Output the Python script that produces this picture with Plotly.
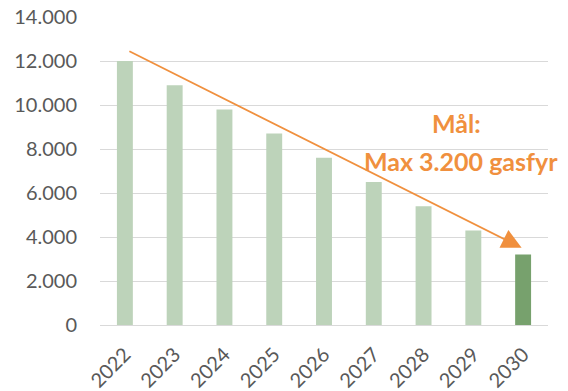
import plotly.graph_objects as go

# Antal gasfyr per år frem mod målet i 2030
years = [2022, 2023, 2024, 2025, 2026, 2027, 2028, 2029, 2030]
gasfyr = [12000, 10900, 9800, 8700, 7600, 6500, 5400, 4300, 3200]
y_ticks = [0, 2000, 4000, 6000, 8000, 10000, 12000, 14000]
y_tick_labels = ["0", "2.000", "4.000", "6.000", "8.000", "10.000", "12.000", "14.000"]

light_green = "#BDD3BA"
dark_green = "#77A16D"
orange = "#F0903E"
grey_text = "#595959"

bar_colors = [light_green] * (len(years) - 1) + [dark_green]

fig = go.Figure()
fig.add_trace(go.Bar(
    x=years, y=gasfyr,
    marker=dict(color=bar_colors, line=dict(width=0)),
    width=0.32,
))

# Trendpil fra 2022 mod målet i 2030
trend_start = (2022.06, 12480)
trend_end = (2029.97, 3510)
fig.add_annotation(
    x=trend_end[0], y=trend_end[1], xref="x", yref="y",
    ax=trend_start[0], ay=trend_start[1], axref="x", ayref="y",
    text="", showarrow=True, arrowhead=2, arrowsize=2.2, arrowwidth=1.8,
    arrowcolor=orange, standoff=0,
)
fig.add_annotation(
    x=456, y=123, xref="paper", yref="paper", text="<b>Mål:</b>",
    showarrow=False, font=dict(family="Lato", size=25, color=orange),
    xanchor="center", yanchor="middle",
)
fig.add_annotation(
    x=461, y=161, xref="paper", yref="paper", text="<b>Max 3.200 gasfyr</b>",
    showarrow=False, font=dict(family="Lato", size=25, color=orange),
    xanchor="center", yanchor="middle",
)

W, H = 568, 391
L, R, T, B = 100, 20, 17, 65.5

# annotation positions above are given in pixels; convert to paper fractions
for ann in fig.layout.annotations[1:]:
    ann.x = (ann.x - L) / (W - L - R)
    ann.y = 1 - (ann.y - T) / (H - T - B)

fig.update_layout(
    width=W, height=H,
    margin=dict(l=L, r=R, t=T, b=B, pad=0, autoexpand=False),
    plot_bgcolor="white", paper_bgcolor="white",
    showlegend=False,
    font=dict(family="Lato", color=grey_text),
)
fig.update_xaxes(
    tickvals=years, ticktext=[str(y) for y in years],
    range=[2021.5, 2030.5], tickangle=-45, automargin=False,
    tickfont=dict(family="Lato", size=20, color=grey_text),
    showgrid=False, showline=False, zeroline=False, ticks="",
    ticklabelstandoff=13,
)
fig.update_yaxes(
    range=[0, 14000], tickvals=y_ticks, ticktext=y_tick_labels, automargin=False,
    tickfont=dict(family="Lato", size=20, color=grey_text),
    showgrid=True, gridcolor="#D9D9D9", gridwidth=1.3,
    zeroline=True, zerolinecolor="#D9D9D9", zerolinewidth=1.3,
    showline=False, ticks="", ticklabelstandoff=22,
)

fig.write_html("out.html")
